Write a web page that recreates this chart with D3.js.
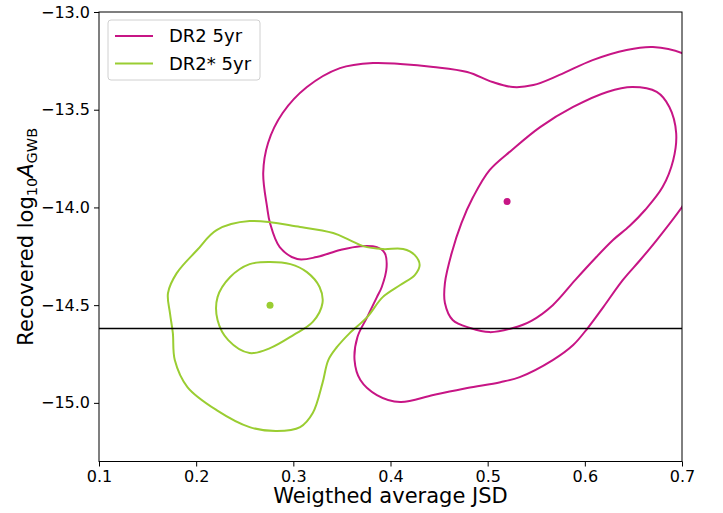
<!DOCTYPE html>
<html>
<head>
<meta charset="utf-8">
<script src="https://cdn.jsdelivr.net/npm/d3@7"></script>
<style>
  body { margin: 0; background: #fff; }
  svg { display: block; font-family: "DejaVu Sans", sans-serif; }
</style>
</head>
<body>
<svg id="chart" width="723" height="513"></svg>
<script>
// Credible-region contours in (weighted average JSD, recovered log10 A_GWB)
const seriesNames = ["DR2 5yr", "DR2* 5yr"];
const seriesColors = ["#c71585", "#9acd32"];

// DR2 5yr: outer and inner contour levels
const dr2Outer = [
  [0.410,-13.266],[0.382,-13.261],[0.348,-13.287],[0.314,-13.384],[0.289,-13.517],
  [0.274,-13.670],[0.269,-13.824],[0.273,-13.998],[0.276,-14.080],[0.286,-14.203],
  [0.304,-14.264],[0.324,-14.254],[0.348,-14.218],[0.369,-14.198],[0.386,-14.203],
  [0.394,-14.233],[0.396,-14.305],[0.391,-14.407],[0.386,-14.459],[0.376,-14.561],
  [0.366,-14.663],[0.363,-14.781],[0.369,-14.883],[0.386,-14.960],[0.410,-14.996],
  [0.444,-14.960],[0.479,-14.924],[0.513,-14.894],[0.533,-14.868],[0.567,-14.781],
  [0.588,-14.704],[0.603,-14.617],[0.619,-14.510],[0.639,-14.372],[0.657,-14.269],
  [0.674,-14.167],[0.700,-13.998],[0.718,-13.860],[0.727,-13.550],[0.718,-13.270],
  [0.700,-13.210],[0.670,-13.179],[0.643,-13.194],[0.608,-13.246],[0.574,-13.322],
  [0.547,-13.374],[0.526,-13.384],[0.505,-13.358],[0.479,-13.307],[0.444,-13.281]
];
const dr2Inner = [
  [0.649,-13.384],[0.674,-13.409],[0.687,-13.486],[0.694,-13.619],[0.691,-13.757],
  [0.680,-13.896],[0.662,-14.013],[0.646,-14.095],[0.629,-14.167],[0.609,-14.269],
  [0.590,-14.372],[0.567,-14.500],[0.545,-14.580],[0.526,-14.617],[0.502,-14.638],
  [0.482,-14.617],[0.464,-14.576],[0.456,-14.489],[0.456,-14.387],[0.463,-14.233],
  [0.473,-14.080],[0.485,-13.947],[0.502,-13.809],[0.525,-13.706],[0.554,-13.589],
  [0.588,-13.486],[0.623,-13.409]
];

// DR2* 5yr: outer and inner contour levels
const dr2sOuter = [
  [0.255,-14.070],[0.307,-14.100],[0.341,-14.131],[0.358,-14.167],[0.372,-14.198],
  [0.392,-14.213],[0.413,-14.213],[0.425,-14.244],[0.430,-14.295],[0.425,-14.346],
  [0.410,-14.397],[0.392,-14.459],[0.376,-14.561],[0.358,-14.643],[0.345,-14.714],
  [0.336,-14.781],[0.330,-14.899],[0.320,-15.052],[0.307,-15.124],[0.283,-15.144],
  [0.255,-15.124],[0.221,-15.037],[0.191,-14.919],[0.178,-14.781],[0.176,-14.643],
  [0.173,-14.540],[0.171,-14.438],[0.180,-14.336],[0.201,-14.218],[0.221,-14.116]
];
const dr2sInner = [
  [0.276,-14.279],[0.255,-14.290],[0.235,-14.356],[0.222,-14.459],[0.222,-14.576],
  [0.233,-14.679],[0.255,-14.745],[0.276,-14.720],[0.300,-14.653],[0.320,-14.586],
  [0.330,-14.489],[0.327,-14.407],[0.314,-14.331],[0.297,-14.290]
];

// Peak (maximum-likelihood) points
const peakPoints = [[0.520, -13.970], [0.276, -14.500]];

// Injected amplitude reference line
const injectedLog10A = -14.62;

const xTicks = [0.1, 0.2, 0.3, 0.4, 0.5, 0.6, 0.7];
const yTicks = [-15.0, -14.5, -14.0, -13.5, -13.0];
const xLabel = "Weigthed average JSD";

const margin = {top: 12, right: 41, bottom: 51.5, left: 99};
const W = 723, H = 513;
const iw = W - margin.left - margin.right;
const ih = H - margin.top - margin.bottom;

const svg = d3.select("#chart");
const x = d3.scaleLinear().domain([0.1, 0.7]).range([0, iw]);
const y = d3.scaleLinear().domain([-15.3, -13.0]).range([ih, 0]);

svg.append("defs").append("clipPath").attr("id", "plotClip")
  .append("rect").attr("width", iw).attr("height", ih);

const g = svg.append("g").attr("transform", `translate(${margin.left},${margin.top})`);
const plot = g.append("g").attr("clip-path", "url(#plotClip)");

const contourLine = d3.line()
  .x(d => x(d[0])).y(d => y(d[1]))
  .curve(d3.curveCatmullRomClosed.alpha(0.5));

const contours = [
  {pts: dr2Outer, c: 0}, {pts: dr2Inner, c: 0},
  {pts: dr2sOuter, c: 1}, {pts: dr2sInner, c: 1}
];
plot.selectAll("path.contour").data(contours).join("path")
  .attr("class", "contour")
  .attr("d", d => contourLine(d.pts))
  .attr("fill", "none")
  .attr("stroke", d => seriesColors[d.c])
  .attr("stroke-width", 2);

plot.append("line")
  .attr("x1", 0).attr("x2", iw)
  .attr("y1", y(injectedLog10A)).attr("y2", y(injectedLog10A))
  .attr("stroke", "#000").attr("stroke-width", 1.5);

plot.selectAll("circle.peak").data(peakPoints).join("circle")
  .attr("class", "peak")
  .attr("cx", d => x(d[0])).attr("cy", d => y(d[1]))
  .attr("r", 3.5)
  .attr("fill", (d, i) => seriesColors[i]);

// Axes
const fmt = d3.format(".1f");
const xAxis = g.append("g").attr("transform", `translate(0,${ih})`)
  .call(d3.axisBottom(x).tickValues(xTicks).tickFormat(fmt).tickSize(5).tickPadding(4));
const yAxis = g.append("g")
  .call(d3.axisLeft(y).tickValues(yTicks).tickFormat(fmt).tickSize(5).tickPadding(4));
[xAxis, yAxis].forEach(a => {
  a.select(".domain").remove();
  a.selectAll("text").attr("font-size", 16).attr("fill", "#000")
    .attr("font-family", "DejaVu Sans, sans-serif");
  a.selectAll("line").attr("stroke", "#000").attr("stroke-width", 1);
});

// Frame
g.append("rect").attr("width", iw).attr("height", ih)
  .attr("fill", "none").attr("stroke", "#000").attr("stroke-width", 1);

// Axis titles
svg.append("text")
  .attr("x", margin.left + iw / 2).attr("y", 503)
  .attr("text-anchor", "middle").attr("font-size", 21)
  .text(xLabel);

const yTitle = svg.append("text")
  .attr("transform", `translate(33,${margin.top + ih / 2}) rotate(-90)`)
  .attr("text-anchor", "middle").attr("font-size", 21);
yTitle.append("tspan").text("Recovered log");
yTitle.append("tspan").attr("font-size", 14.5).attr("dy", 4).text("10");
yTitle.append("tspan").attr("dy", -4).attr("font-style", "italic").text("A");
yTitle.append("tspan").attr("font-size", 14.5).attr("dy", 4).text("GWB");

// Legend
const legend = g.append("g").attr("transform", "translate(9,8)");
legend.append("rect")
  .attr("width", 152).attr("height", 60).attr("rx", 3)
  .attr("fill", "#fff").attr("fill-opacity", 0.8)
  .attr("stroke", "#d0d0d0").attr("stroke-width", 1);
seriesNames.forEach((name, i) => {
  const row = legend.append("g").attr("transform", `translate(0,${16 + i * 27.5})`);
  row.append("line").attr("x1", 7).attr("x2", 45).attr("y1", 0).attr("y2", 0)
    .attr("stroke", seriesColors[i]).attr("stroke-width", 2);
  row.append("text").attr("x", 61).attr("y", 0).attr("dy", "0.35em")
    .attr("font-size", 18).text(name);
});
</script>
</body>
</html>
